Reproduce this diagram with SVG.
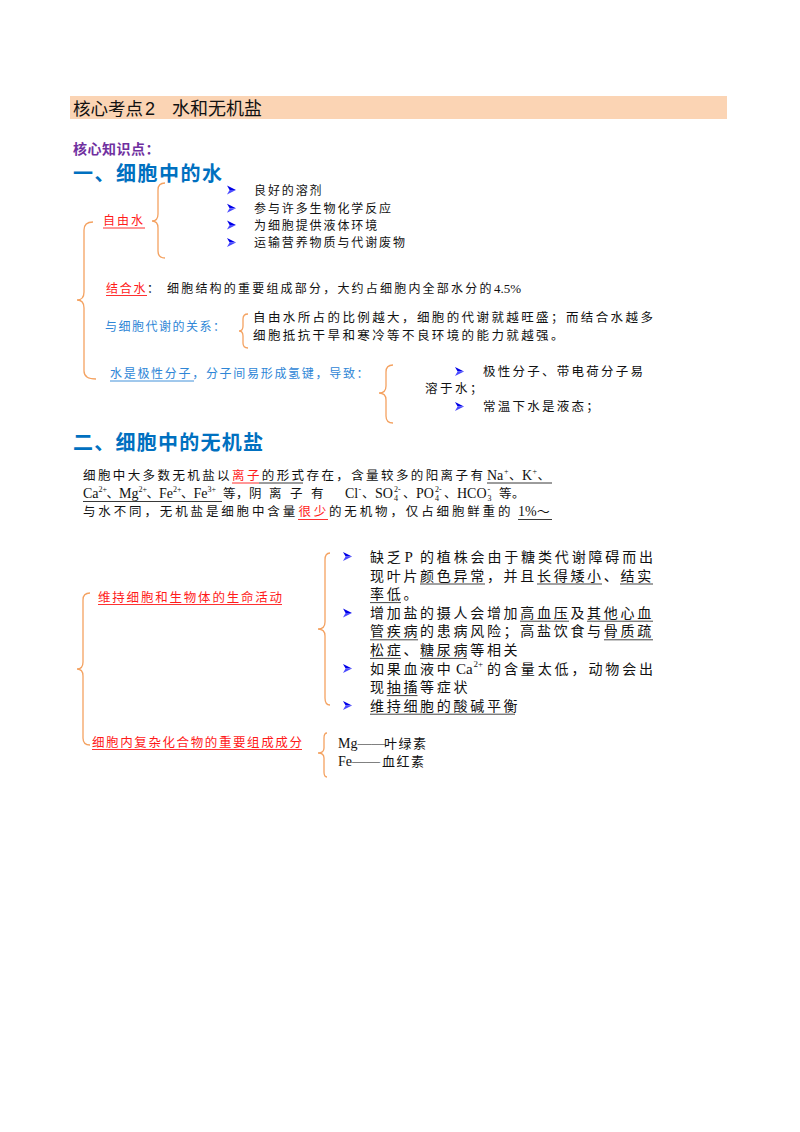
<svg xmlns="http://www.w3.org/2000/svg" width="800" height="1132" viewBox="0 0 800 1132">
<style>
.cn{font-family:"Noto Sans CJK SC",sans-serif;}
.b{font-family:"Liberation Serif","Noto Sans CJK SC",serif;fill:#111;}
.red{fill:#FF1A1A;}
.blu{fill:#2E86D6;}
.brace{fill:none;stroke:#F4A261;stroke-width:1.3;}
.ulk{stroke:#222;stroke-width:0.9;}
.ulg{stroke:#444;stroke-width:1;}
.ulr{stroke:#FF1A1A;stroke-width:0.9;}
.ulb{stroke:#2E86D6;stroke-width:0.9;}
.s12{font-size:12px;}
.s125{font-size:12.5px;}
.s14{font-size:14px;}
</style>
<defs>
<g id="arr">
<path d="M0,0 L9,4.5 L2.6,4.5 Z" fill="#0000E8"/>
<path d="M2.6,4.5 L9,4.5 L0,9 Z" fill="#4A4AFF"/>
</g>
</defs>
<rect width="800" height="1132" fill="#FFFFFF"/>

<g id="header">
<rect x="70" y="96" width="657" height="23" fill="#FBD4B4"/>
<text class="cn" y="115" font-size="17.5" fill="#111"><tspan x="73">核心考点</tspan><tspan x="145" font-family="Liberation Sans" font-size="18">2</tspan><tspan x="172" font-size="18">水和无机盐</tspan></text>
</g>

<g id="core-title">
<text class="cn" x="73" y="154" font-size="14" font-weight="700" fill="#7030A0" letter-spacing="0.5">核心知识点：</text>
</g>

<g id="sec1-title">
<text class="cn" x="73" y="180.5" font-size="20" font-weight="700" fill="#0070C0" letter-spacing="1.5">一、细胞中的水</text>
</g>

<g id="connectors">
<path class="brace" d="M93,222 Q84,222 84,230 L84,292 Q84,300 77,300 Q84,300 84,308 L84,371 Q84,379 96,379"/>
<path class="brace" d="M165,183 Q158,183 158,190 L158,214 Q158,221 152,221 Q158,221 158,228 L158,251 Q158,258 165,258"/>
<path class="brace" d="M248,314 Q243,314 243,319 L243,326 Q243,331 239,331 Q243,331 243,336 L243,343 Q243,348 248,348"/>
<path class="brace" d="M393,365 Q386,365 386,372 L386,386 Q386,393 379,393 Q386,393 386,400 L386,416 Q386,423 393,423"/>
<path class="brace" d="M90,593 Q83,593 83,600 L83,662 Q83,669 77,669 Q83,669 83,676 L83,738 Q83,745 90,745"/>
<path class="brace" d="M330,553 Q325,553 325,560 L325,622 Q325,629 318,629 Q325,629 325,636 L325,698 Q325,705 330,705"/>
<path class="brace" d="M327,733 Q324,733 324,738 L324,748 Q324,753 318,753 Q324,753 324,758 L324,772 Q324,777 327,777"/>
</g>

<g id="free-water">
<text class="cn s12 red" x="103" y="225" letter-spacing="2">自由水</text>
<line class="ulr" x1="103" y1="228" x2="145" y2="228"/>
</g>

<g id="free-water-items">
<use href="#arr" x="227" y="185.5"/>
<use href="#arr" x="227" y="203.8"/>
<use href="#arr" x="227" y="220.5"/>
<use href="#arr" x="227" y="238"/>
<text class="b s12" x="254" y="194.5" letter-spacing="1.9">良好的溶剂</text>
<text class="b s12" x="254" y="212.8" letter-spacing="1.9">参与许多生物化学反应</text>
<text class="b s12" x="254" y="229.5" letter-spacing="1.9">为细胞提供液体环境</text>
<text class="b s12" x="254" y="247" letter-spacing="1.9">运输营养物质与代谢废物</text>
</g>

<g id="bound-water">
<text class="cn s12 red" x="106" y="292.5" letter-spacing="1.7">结合水</text>
<line class="ulr" x1="106" y1="295.5" x2="147" y2="295.5"/>
<text class="b s12" x="147" y="292.5">：</text>
<text class="b s12" x="167" y="292.5" letter-spacing="2.2">细胞结构的重要组成部分，大约占细胞内全部水分的</text>
<text class="b" x="494" y="292.5" font-size="13">4.5%</text>
</g>

<g id="metabolism">
<text class="cn s12 blu" x="105" y="330.5" letter-spacing="1.5">与细胞代谢的关系：</text>
<text class="b s125" x="253" y="322" letter-spacing="2.4">自由水所占的比例越大，细胞的代谢就越旺盛；而结合水越多</text>
<text class="b s125" x="253" y="340" letter-spacing="2.4">细胞抵抗干旱和寒冷等不良环境的能力就越强。</text>
</g>

<g id="polar">
<text class="cn s12 blu" x="110" y="377.5" letter-spacing="1.7">水是极性分子，分子间易形成氢键，导致：</text>
<line class="ulb" x1="110" y1="381" x2="194" y2="381"/>
<use href="#arr" x="455" y="367"/>
<use href="#arr" x="455" y="402"/>
<text class="b s125" x="483" y="376" letter-spacing="2.25">极性分子、带电荷分子易</text>
<text class="b s125" x="425" y="393" letter-spacing="2.5">溶于水；</text>
<text class="b s125" x="483" y="411" letter-spacing="2.25">常温下水是液态；</text>
</g>

<g id="sec2-title">
<text class="cn" x="73" y="450" font-size="20" font-weight="700" fill="#0070C0" letter-spacing="1.25">二、细胞中的无机盐</text>
</g>

<g id="salt-para">
<text class="b s125" x="83" y="479.5" letter-spacing="2.4">细胞中大多数无机盐以</text>
<text class="cn s125 red" x="232" y="479.5" letter-spacing="2.4">离子</text>
<text class="b s125" x="261.8" y="479.5" letter-spacing="2.4">的形式存在，含量较多的阳离子有</text>
<line class="ulr" x1="232" y1="483" x2="259" y2="483"/>
<line class="ulk" x1="259" y1="483" x2="303" y2="483"/>
<text class="b" font-size="14" y="479.5"><tspan x="487">Na</tspan><tspan x="504" y="474" font-size="8">+</tspan><tspan x="509" y="479.5" font-size="12.5">、</tspan><tspan x="522">K</tspan><tspan x="532.5" y="474" font-size="8">+</tspan><tspan x="537.5" y="479.5" font-size="12.5">、</tspan></text>
<line class="ulk" x1="487" y1="483" x2="552" y2="483"/>

<text class="b" font-size="14" y="498"><tspan x="83">Ca</tspan><tspan x="98.5" y="492" font-size="8">2+</tspan><tspan x="106.5" y="498" font-size="12.5">、</tspan><tspan x="119">Mg</tspan><tspan x="138.5" y="492" font-size="8">2+</tspan><tspan x="146.5" y="498" font-size="12.5">、</tspan><tspan x="159">Fe</tspan><tspan x="173" y="492" font-size="8">2+</tspan><tspan x="181" y="498" font-size="12.5">、</tspan><tspan x="193.5">Fe</tspan><tspan x="207.5" y="492" font-size="8">3+</tspan></text>
<line class="ulk" x1="83" y1="501.5" x2="222" y2="501.5"/>
<text class="b s125" y="498"><tspan x="223 236 249 269 290 311">等，阴离子有</tspan></text>
<text class="b" font-size="14" y="498"><tspan x="345">Cl</tspan><tspan x="358.5" y="492" font-size="8">-</tspan><tspan x="362" y="498" font-size="12.5">、</tspan><tspan x="375">SO</tspan><tspan x="394" y="501" font-size="8">4</tspan><tspan x="394" y="492" font-size="8">2-</tspan><tspan x="403" y="498" font-size="12.5">、</tspan><tspan x="416">PO</tspan><tspan x="435" y="501" font-size="8">4</tspan><tspan x="435" y="492" font-size="8">2-</tspan><tspan x="444" y="498" font-size="12.5">、</tspan><tspan x="457">HCO</tspan><tspan x="487.5" y="501" font-size="8">3</tspan><tspan x="487.5" y="492" font-size="8">-</tspan><tspan x="499" y="498" font-size="12.5">等</tspan><tspan x="512" font-size="12.5">。</tspan></text>

<text class="b s125" x="83" y="516" letter-spacing="2.86">与水不同，无机盐是细胞中含量</text>
<text class="cn s125 red" x="298.5" y="516" letter-spacing="2.86">很少</text>
<line class="ulr" x1="298" y1="519.5" x2="328" y2="519.5"/>
<text class="b s125" x="329" y="516" letter-spacing="2.86">的无机物，仅占细胞鲜重的</text>
<text class="b" x="518" y="516" font-size="14">1%<tspan font-size="13">～</tspan></text>
<line class="ulk" x1="518" y1="519.5" x2="552" y2="519.5"/>
</g>

<g id="life-activity">
<text class="cn s125 red" x="98" y="601.5" letter-spacing="1.8">维持细胞和生物体的生命活动</text>
<line class="ulr" x1="98" y1="604.5" x2="282" y2="604.5"/>
</g>

<g id="life-activity-items">
<use href="#arr" x="343" y="552"/>
<use href="#arr" x="343" y="608.5"/>
<use href="#arr" x="343" y="664"/>
<use href="#arr" x="343" y="701"/>
<text class="b s14" x="370" y="562" letter-spacing="2.7">缺乏</text>
<text class="b" x="404.5" y="562" font-size="15">P</text>
<text class="b s14" x="420" y="562" letter-spacing="2.85">的植株会由于糖类代谢障碍而出</text>
<text class="b s14" x="370" y="580.6" letter-spacing="2.7">现叶片颜色异常，并且长得矮小、结实</text>
<line class="ulg" x1="420" y1="584" x2="485" y2="584"/>
<line class="ulg" x1="537" y1="584" x2="602" y2="584"/>
<line class="ulg" x1="620" y1="584" x2="653" y2="584"/>
<text class="b s14" x="370" y="599.2" letter-spacing="2.7">率低。</text>
<line class="ulg" x1="370" y1="602.6" x2="401" y2="602.6"/>
<text class="b s14" x="370" y="617.8" letter-spacing="2.7">增加盐的摄人会增加高血压及其他心血</text>
<line class="ulg" x1="520" y1="621.2" x2="569" y2="621.2"/>
<line class="ulg" x1="587" y1="621.2" x2="653" y2="621.2"/>
<text class="b s14" x="370" y="636.4" letter-spacing="2.7">管疾病的患病风险；高盐饮食与骨质疏</text>
<line class="ulg" x1="370" y1="639.8" x2="418" y2="639.8"/>
<line class="ulg" x1="604" y1="639.8" x2="653" y2="639.8"/>
<text class="b s14" x="370" y="655" letter-spacing="2.7">松症、糖尿病等相关</text>
<line class="ulg" x1="370" y1="658.4" x2="401" y2="658.4"/>
<line class="ulg" x1="420" y1="658.4" x2="467" y2="658.4"/>
<text class="b s14" x="370" y="673.6" letter-spacing="2.7">如果血液中</text>
<text class="b" x="456" y="673.6" font-size="15">Ca<tspan x="473.5" y="667" font-size="9">2+</tspan></text>
<text class="b s14" x="487" y="673.6" letter-spacing="2.9">的含量太低，动物会出</text>
<text class="b s14" x="370" y="692.2" letter-spacing="2.7">现抽搐等症状</text>
<line class="ulg" x1="386.7" y1="695.6" x2="417.5" y2="695.6"/>
<text class="b s14" x="370" y="710.8" letter-spacing="2.7">维持细胞的酸碱平衡</text>
<line class="ulg" x1="370" y1="714.2" x2="515" y2="714.2"/>
</g>

<g id="complex-compound">
<text class="cn s125 red" x="92" y="746.5" letter-spacing="1.6">细胞内复杂化合物的重要组成成分</text>
<line class="ulr" x1="92" y1="749.5" x2="302" y2="749.5"/>
</g>

<g id="compound-items">
<text class="b" x="338" y="748" font-size="14">Mg——<tspan x="384" font-size="13" letter-spacing="1.5">叶绿素</tspan></text>
<text class="b" x="338" y="766" font-size="14">Fe——<tspan x="382" font-size="13" letter-spacing="1.5">血红素</tspan></text>
</g>
</svg>
